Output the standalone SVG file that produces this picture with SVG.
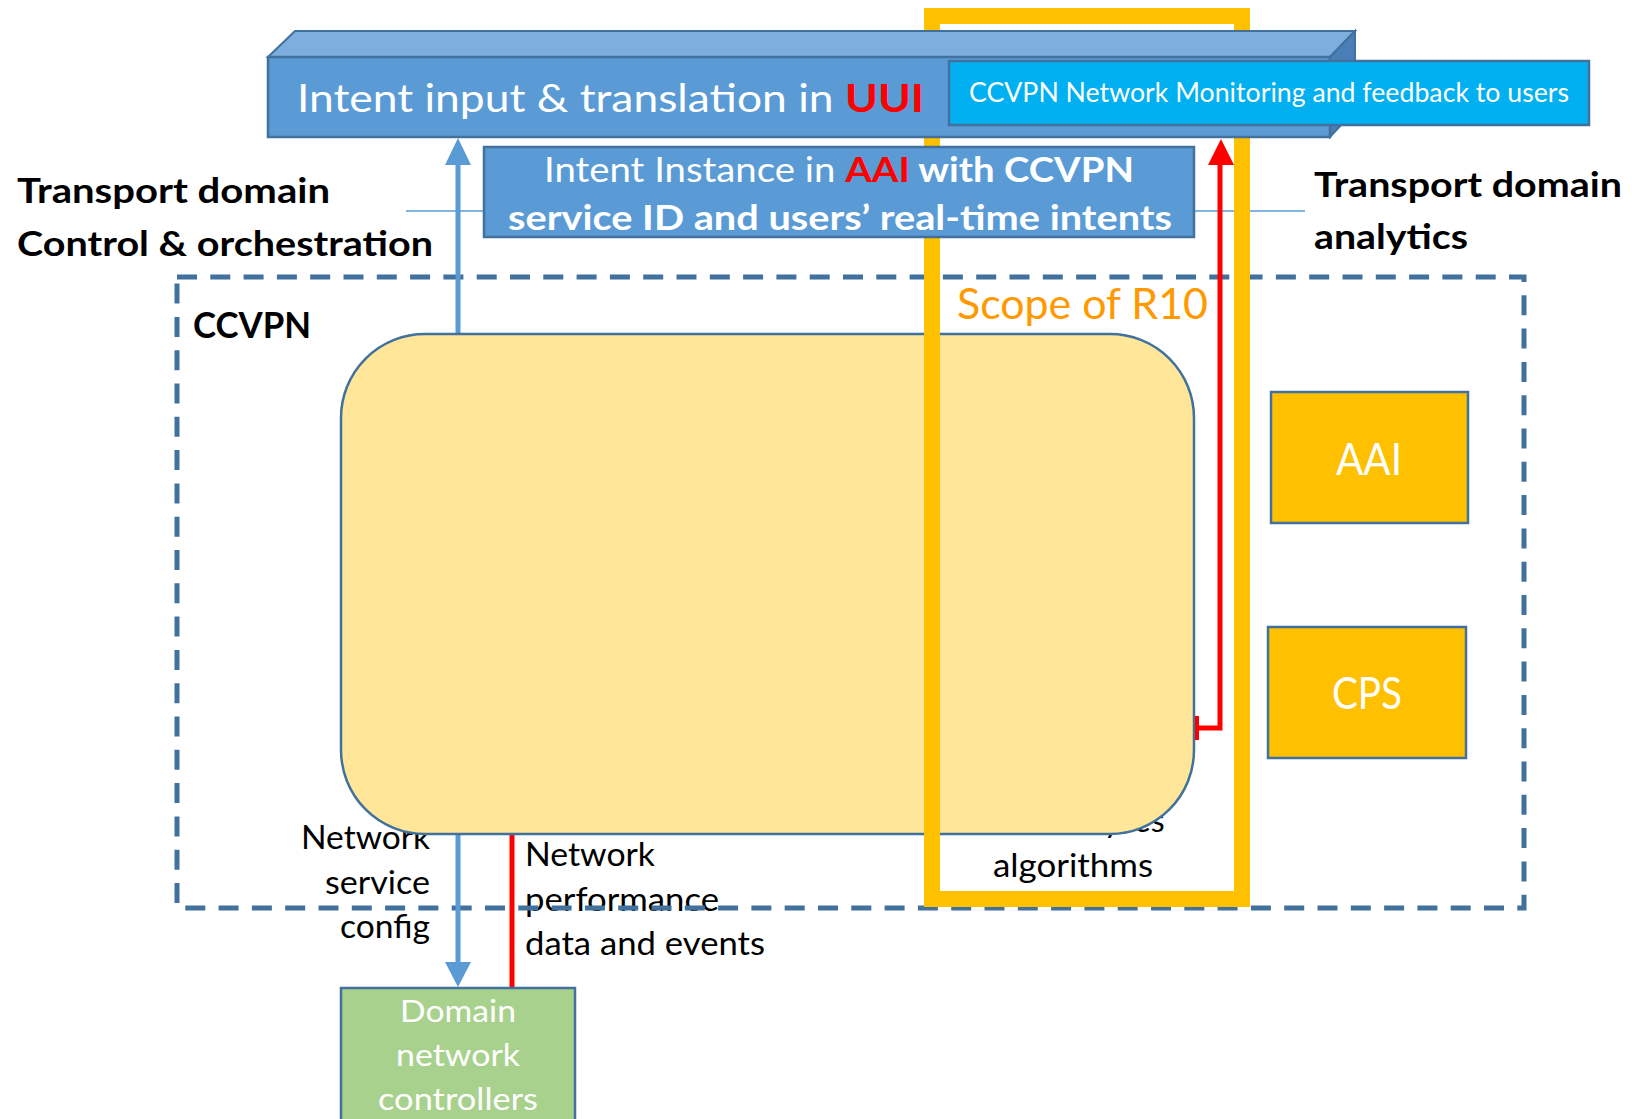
<svg xmlns="http://www.w3.org/2000/svg" width="1632" height="1119" viewBox="0 0 1632 1119">
<style>
text{font-family:Lato,"Open Sans","Liberation Sans",sans-serif}
.w{fill:#fff}
.k{fill:#000}
.b{font-weight:bold}
.red{fill:#f00;font-weight:bold}
.box{stroke:#41719c;stroke-width:2.5}
.blue{stroke:#5b9bd5;stroke-width:5;fill:none}
.redl{stroke:#f00;stroke-width:5;fill:none}
</style>
<rect width="1632" height="1119" fill="#fff"/>
<line x1="406" y1="211" x2="1305" y2="211" stroke="#5b9bd5" stroke-width="1.5"/>
<g id="labels-under">
<text class="k" font-size="32" text-anchor="end"><tspan x="430" y="849" textLength="129" lengthAdjust="spacingAndGlyphs">Network</tspan><tspan x="430" y="894" textLength="105" lengthAdjust="spacingAndGlyphs">service</tspan><tspan x="430" y="938" textLength="90" lengthAdjust="spacingAndGlyphs">config</tspan></text>
<text class="k" font-size="32"><tspan x="525" y="866" textLength="130" lengthAdjust="spacingAndGlyphs">Network</tspan><tspan x="525" y="911" textLength="194" lengthAdjust="spacingAndGlyphs">performance</tspan><tspan x="525" y="955" textLength="240" lengthAdjust="spacingAndGlyphs">data and events</tspan></text>
<text class="k" font-size="32" text-anchor="middle"><tspan x="1068" y="832">Data analyses</tspan><tspan x="1073" y="877" textLength="160" lengthAdjust="spacingAndGlyphs">algorithms</tspan></text>
</g>
<g id="ccvpn">
<rect x="177" y="277" width="1347" height="631" fill="none" stroke="#41719c" stroke-width="5" stroke-dasharray="20 13.3"/>
<text class="k b" x="193" y="338" font-size="37" textLength="118" lengthAdjust="spacingAndGlyphs">CCVPN</text>
</g>
<g id="connectors">
<line class="blue" x1="458" y1="334" x2="458" y2="163"/>
<polygon points="458,138 445,165 471,165" fill="#5b9bd5"/>
<line class="blue" x1="458" y1="834" x2="458" y2="964"/>
<polygon points="458,987 445,962 471,962" fill="#5b9bd5"/>
<line class="redl" x1="512" y1="834" x2="512" y2="988"/>
</g>
<g id="core">
<rect x="341" y="334" width="853" height="500" rx="84" ry="84" fill="#ffe699" stroke="#41719c" stroke-width="2.5"/>
</g>
<g id="scope">
<rect x="932" y="16" width="310" height="883" fill="none" stroke="#ffc000" stroke-width="16"/>
<text x="957" y="319" font-size="42" fill="#ff9900" textLength="251" lengthAdjust="spacingAndGlyphs">Scope of R10</text>
</g>
<g id="feedback-arrow">
<polyline class="redl" points="1197,728 1220,728 1220,163"/>
<line x1="1197" y1="716" x2="1197" y2="740" stroke="#f00" stroke-width="4"/>
<polygon points="1221,139 1208,165 1234,165" fill="#f00"/>
</g>
<g id="uui">
<polygon points="268,57 295,31 1355,31 1330,57" fill="#7eaedd" stroke="#41719c" stroke-width="2"/>
<polygon points="1330,57 1355,31 1355,110 1330,137" fill="#4a7eb6" stroke="#41719c" stroke-width="2"/>
<rect x="268" y="57" width="1062" height="80" fill="#5b9bd5" stroke="#41719c" stroke-width="2.5"/>
<text x="297" y="112" font-size="39" class="w" textLength="627" lengthAdjust="spacingAndGlyphs">Intent input &amp; translation in <tspan class="red">UUI</tspan></text>
</g>
<g id="monitoring">
<rect x="949" y="61" width="640" height="64" fill="#00b0f0" class="box"/>
<text x="969" y="102" font-size="26" class="w" textLength="600" lengthAdjust="spacingAndGlyphs">CCVPN Network Monitoring and feedback to users</text>
</g>
<g id="intent-instance">
<rect x="484" y="147" width="710" height="90" fill="#5b9bd5" class="box"/>
<text x="544" y="182" font-size="35" class="w" textLength="590" lengthAdjust="spacingAndGlyphs">Intent Instance in <tspan class="red">AAI</tspan><tspan class="b"> with CCVPN</tspan></text>
<text x="508" y="230" font-size="35" class="w b" textLength="664" lengthAdjust="spacingAndGlyphs">service ID and users’ real-time intents</text>
</g>
<g id="aai">
<rect x="1271" y="392" width="197" height="131" fill="#ffc000" class="box"/>
<text x="1369" y="475" font-size="44" class="w" text-anchor="middle" textLength="66" lengthAdjust="spacingAndGlyphs">AAI</text>
</g>
<g id="cps">
<rect x="1268" y="627" width="198" height="131" fill="#ffc000" class="box"/>
<text x="1367" y="709" font-size="44" class="w" text-anchor="middle" textLength="70" lengthAdjust="spacingAndGlyphs">CPS</text>
</g>
<g id="controllers">
<rect x="341" y="988" width="234" height="150" fill="#a9d18e" class="box"/>
<text class="w" font-size="31" text-anchor="middle"><tspan x="458" y="1022" textLength="116" lengthAdjust="spacingAndGlyphs">Domain</tspan><tspan x="458" y="1066" textLength="124" lengthAdjust="spacingAndGlyphs">network</tspan><tspan x="458" y="1110" textLength="160" lengthAdjust="spacingAndGlyphs">controllers</tspan></text>
</g>
<g id="domain-labels">
<text class="k b" font-size="35"><tspan x="17" y="203" textLength="313" lengthAdjust="spacingAndGlyphs">Transport domain</tspan><tspan x="17" y="256" textLength="416" lengthAdjust="spacingAndGlyphs">Control &amp; orchestration</tspan></text>
<text class="k b" font-size="35"><tspan x="1314" y="197" textLength="308" lengthAdjust="spacingAndGlyphs">Transport domain</tspan><tspan x="1314" y="249" textLength="154" lengthAdjust="spacingAndGlyphs">analytics</tspan></text>
</g>
</svg>
